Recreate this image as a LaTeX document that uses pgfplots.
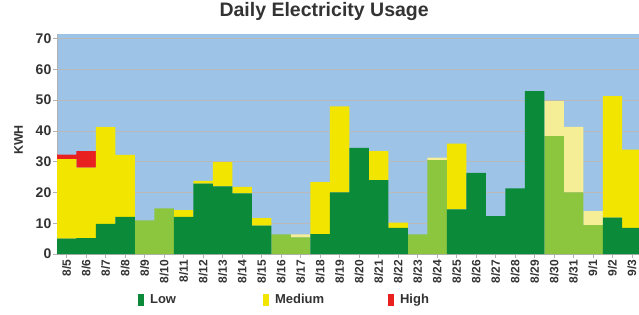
\documentclass[border=0pt]{standalone}
\usepackage{fontspec}
\setmainfont{Liberation Sans}
\usepackage{pgfplots}
\usepackage{pgfplotstable}
\pgfplotsset{compat=1.18}
\definecolor{bgblue}{HTML}{9DC3E6}
\definecolor{lowc}{HTML}{0B8A3A}
\definecolor{loww}{HTML}{8CC63F}
\definecolor{medc}{HTML}{F2E600}
\definecolor{medw}{HTML}{F5EE96}
\definecolor{highc}{HTML}{E82020}
\definecolor{txt}{HTML}{333333}
\pgfplotstableread{
idx low loww med medw high
0  5.0  0    25.8 0    1.5
1  5.2  0    22.9 0    5.3
2  9.8  0    31.4 0    0
3  12.1 0    20.1 0    0
4  0    10.9 0    0    0
5  0    14.8 0    0    0
6  12.1 0    2.2  0    0
7  22.9 0    0.9  0    0
8  22.0 0    7.9  0    0
9  19.7 0    2.1  0    0
10 9.2  0    2.5  0    0
11 0    6.4  0    0    0
12 0    5.4  0    1.0  0
13 6.5  0    16.9 0    0
14 20.0 0    28.0 0    0
15 34.5 0    0    0    0
16 24.0 0    9.4  0    0
17 8.5  0    1.7  0    0
18 0    6.4  0    0    0
19 0    30.5 0    0.8  0
20 14.5 0    21.4 0    0
21 26.4 0    0    0    0
22 12.3 0    0    0    0
23 21.3 0    0    0    0
24 52.9 0    0    0    0
25 0    38.3 0    11.4 0
26 0    20.0 0    21.3 0
27 0    9.4  0    4.5  0
28 11.8 0    39.5 0    0
29 8.5  0    25.4 0    0
}\datatable
\begin{document}
\begin{tikzpicture}
\path[use as bounding box] (0,0) rectangle (639pt,314pt);
\begin{axis}[
  at={(57pt,60pt)}, anchor=south west,
  scale only axis, width=582pt, height=220pt,
  ybar stacked, bar width=1,
  xmin=-0.5, xmax=29.36, ymin=0, ymax=71.5,
  axis background/.style={fill=bgblue},
  axis lines*=left,
  axis line style={gray!60, line width=0.6pt},
  tick style={gray!60, line width=0.6pt},
  tick align=outside, major tick length=4pt,
  ymajorgrids, grid style={gray!55, line width=0.7pt},
  ytick={0,10,...,70},
  xtick={0,...,29},
  xticklabels={8/5,8/6,8/7,8/8,8/9,8/10,8/11,8/12,8/13,8/14,8/15,8/16,8/17,8/18,8/19,8/20,8/21,8/22,8/23,8/24,8/25,8/26,8/27,8/28,8/29,8/30,8/31,9/1,9/2,9/3},
  /pgf/number format/assume math mode=true,
  yticklabel style={font=\bfseries\fontsize{14}{14}\selectfont, text=txt, inner sep=1.5pt},
  xticklabel style={font=\bfseries\fontsize{12}{12}\selectfont, text=txt, rotate=90, anchor=east, inner sep=1.5pt},
  title={Daily Electricity Usage},
  title style={at={(axis description cs:0.459,1)}, anchor=center, yshift=16pt, font=\bfseries\fontsize{19.5}{19.5}\selectfont, text=txt},
  ylabel={KWH},
  ylabel style={at={(axis description cs:-0.066,0.518)}, anchor=center, font=\bfseries\fontsize{12.5}{12.5}\selectfont, text=txt},
  legend columns=3,
  legend cell align=left,
  legend image code/.code={\path[#1, draw=none] (0pt,-6pt) rectangle (6pt,6pt);},
  legend style={at={(axis description cs:0.139,-0.209)}, anchor=west, draw=none, fill=none, inner sep=0pt,
    font=\bfseries\fontsize{13}{13}\selectfont, text=txt,
    nodes={inner sep=0pt}},
]
\addplot[fill=lowc, draw=none] table[x=idx, y=low] {\datatable};
\addlegendentry{\makebox[119pt][l]{\hspace{6pt}Low}}
\addplot[fill=loww, draw=none, forget plot] table[x=idx, y=loww] {\datatable};
\addplot[fill=medc, draw=none] table[x=idx, y=med] {\datatable};
\addlegendentry{\makebox[119pt][l]{\hspace{6pt}Medium}}
\addplot[fill=medw, draw=none, forget plot] table[x=idx, y=medw] {\datatable};
\addplot[fill=highc, draw=none] table[x=idx, y=high] {\datatable};
\addlegendentry{\hspace{6pt}High}
\end{axis}
\end{tikzpicture}
\end{document}
